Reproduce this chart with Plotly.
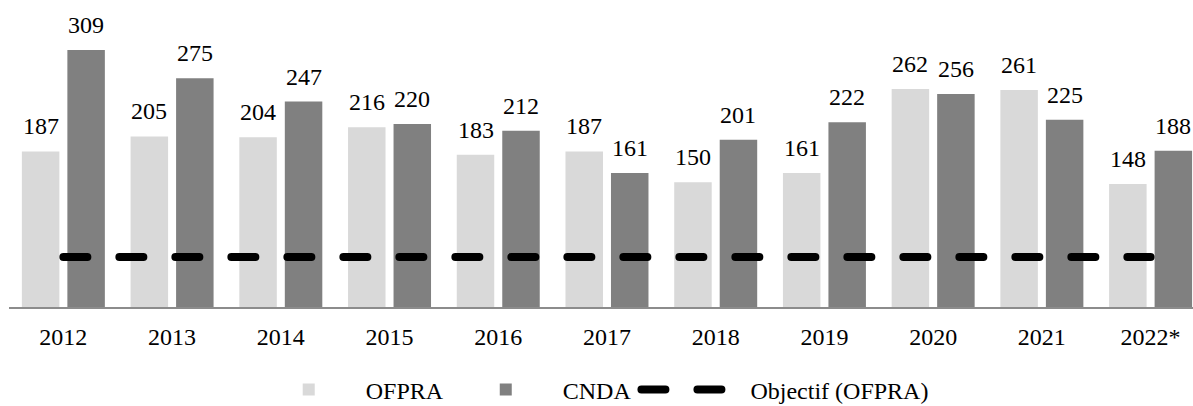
import plotly.graph_objects as go

years = ["2012", "2013", "2014", "2015", "2016", "2017", "2018", "2019", "2020", "2021", "2022*"]
ofpra = [187, 205, 204, 216, 183, 187, 150, 161, 262, 261, 148]
cnda = [309, 275, 247, 220, 212, 161, 201, 222, 256, 225, 188]
objectif = [60] * len(years)

FONT = "Liberation Serif, Times New Roman, Times, serif"
BARGAP = 0.163
BARGROUPGAP = 0.176

fig = go.Figure()
fig.add_trace(go.Bar(
    x=years, y=ofpra, name="OFPRA",
    marker=dict(color="#d9d9d9", line=dict(width=0)),
))
fig.add_trace(go.Bar(
    x=years, y=cnda, name="CNDA",
    marker=dict(color="#808080", line=dict(width=0)),
))
fig.add_trace(go.Scatter(
    x=years, y=objectif, name="Objectif (OFPRA)", mode="lines",
    line=dict(color="black", width=8, dash="24px,32px"),
))

# value labels above each bar, placed at the centre of each grouped bar
half = (1 - BARGAP) / 4
annotations = []
for i in range(len(years)):
    for off, vals in ((-half, ofpra), (half, cnda)):
        annotations.append(dict(
            x=i + off, y=vals[i], xref="x", yref="y",
            text=str(vals[i]), showarrow=False,
            yanchor="bottom", xanchor="center", yshift=10,
            font=dict(family=FONT, size=24, color="black"),
        ))

fig.update_layout(
    width=1193, height=406,
    margin=dict(l=9, r=0, t=0, b=99, autoexpand=False),
    paper_bgcolor="white", plot_bgcolor="white",
    font=dict(family=FONT, size=24, color="black"),
    barmode="group", bargap=BARGAP, bargroupgap=BARGROUPGAP,
    showlegend=True,
    legend=dict(orientation="h", x=0.205, xanchor="left", y=-0.27, yanchor="middle",
                font=dict(family=FONT, size=24, color="black"), traceorder="normal",
                itemwidth=104),
    annotations=annotations,
)
fig.update_xaxes(
    type="category", range=[-0.5, 10.39], automargin=False,
    showline=True, linecolor="#8c8c8c", linewidth=1.5,
    showgrid=False, zeroline=False,
    ticks="outside", ticklen=7, tickcolor="rgba(0,0,0,0)",
    tickfont=dict(family=FONT, size=24, color="black"),
)
fig.update_yaxes(range=[0, 369.1], visible=False, showgrid=False, zeroline=False, automargin=False)

post = """
document.body.style.margin = '0';
document.body.style.overflow = 'hidden';
document.querySelectorAll('.scatterlayer .js-line, .legend .js-line').forEach(function(e){
  e.style.strokeLinecap = 'round';
});
"""
fig.write_html("out.html", post_script=post, config={"displayModeBar": False})
